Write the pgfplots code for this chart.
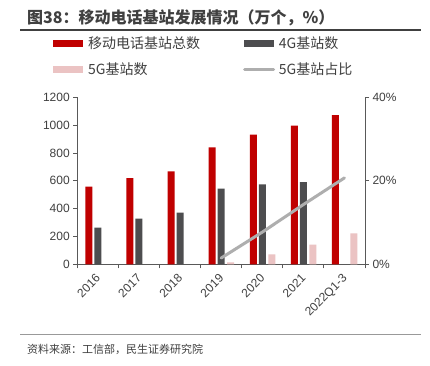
\documentclass[border=0pt]{standalone}
\usepackage{pgfplots}
\pgfplotsset{compat=1.18}
\usepackage{fontspec}
\setmainfont{Liberation Sans}
\newfontfamily\cjk{Noto Sans CJK SC}
\definecolor{cred}{HTML}{C00000}
\definecolor{cdark}{HTML}{4D4D4F}
\definecolor{cpink}{HTML}{EBC3C3}
\definecolor{cline}{HTML}{AEAEAE}
\definecolor{ctext}{HTML}{404040}
\definecolor{caxis}{HTML}{595959}
\pgfplotsset{
  mybar/.style={legend image code/.code={\fill[##1] (0pt,-3.5pt) rectangle (30pt,3.5pt); \path (33pt,0pt);}},
  myline/.style={legend image code/.code={\draw[##1, line width=3pt, line cap=round] (1pt,0pt) -- (30pt,0pt); \path (33pt,0pt);}},
}
\begin{document}
\begin{tikzpicture}[x=1pt,y=1pt]
\useasboundingbox[fill=white] (0,0) rectangle (430,365);
% title
\node[anchor=base west, inner sep=0, text=ctext, font=\cjk\bfseries\fontsize{16}{16}\selectfont] at (27,341) {图38：移动电话基站发展情况（万个，\%）};
\draw[ctext, line width=1.3pt] (20,335) -- (421,335);
\draw[gray!80, line width=1pt] (20,31) -- (421,31);
\node[anchor=base west, inner sep=0, text=ctext, font=\cjk\fontsize{11}{11}\selectfont] at (27,12) {资料来源：工信部，民生证券研究院};

\begin{axis}[
  at={(77.3pt,100.7pt)}, anchor=south west,
  scale only axis, width=287.7pt, height=167pt,
  xmin=-0.5, xmax=6.5, ymin=0, ymax=1200,
  axis y line*=left, axis x line*=bottom,
  axis line style={caxis, line width=0.9pt},
  xtick={-0.5,0.5,...,6.5},
  xticklabels={2016,2017,2018,2019,2020,2021,2022Q1-3},
  x tick label as interval,
  xticklabel style={rotate=45, anchor=north east, xshift=-2pt, yshift=2pt},
  ytick={0,200,...,1200},
  tick align=outside, major tick length=4pt,
  tick style={caxis, line width=0.9pt},
  ticklabel style={font=\fontsize{12}{12}\selectfont, text=ctext},
  /pgf/number format/assume math mode=true,
  /pgf/number format/set thousands separator={},
  legend style={at={(axis description cs:-0.095,1.385)}, anchor=north west,
    draw=none, fill=none, legend columns=2,
    font=\cjk\fontsize{14}{14}\selectfont, text=ctext,
    /tikz/every even column/.append style={column sep=41pt},
    row sep=8pt},
  legend cell align=left,
]
\addplot[ybar, bar width=7pt, bar shift=-9pt, fill=cred, draw=none, mybar] coordinates {(0,559) (1,619) (2,667) (3,841) (4,931) (5,996) (6,1072)};
\addlegendentry{移动电话基站总数}
\addplot[ybar, bar width=7pt, bar shift=0pt, fill=cdark, draw=none, mybar] coordinates {(0,263) (1,328) (2,372) (3,544) (4,575) (5,590)};
\addlegendentry{4G基站数}
\addplot[ybar, bar width=7pt, bar shift=9.5pt, fill=cpink, draw=none, mybar] coordinates {(3,13) (4,72) (5,142) (6,222)};
\addlegendentry{5G基站数}
\addlegendimage{myline, cline}
\addlegendentry{5G基站占比}
\end{axis}

\begin{axis}[
  at={(77.3pt,100.7pt)}, anchor=south west,
  scale only axis, width=287.7pt, height=167pt,
  xmin=-0.5, xmax=6.5, ymin=0, ymax=40,
  axis y line*=right, axis x line=none,
  axis line style={caxis, line width=0.9pt},
  ytick={0,20,40},
  yticklabel={\pgfmathprintnumber{\tick}\%},
  tick align=outside, major tick length=4pt,
  tick style={caxis, line width=0.9pt},
  ticklabel style={font=\fontsize{12}{12}\selectfont, text=ctext},
  /pgf/number format/assume math mode=true,
]
\addplot[cline, line width=3pt, line cap=round, mark=none] coordinates {(3,1.5) (4,7.7) (5,14.3) (6,20.7)};
\end{axis}
\end{tikzpicture}
\end{document}
